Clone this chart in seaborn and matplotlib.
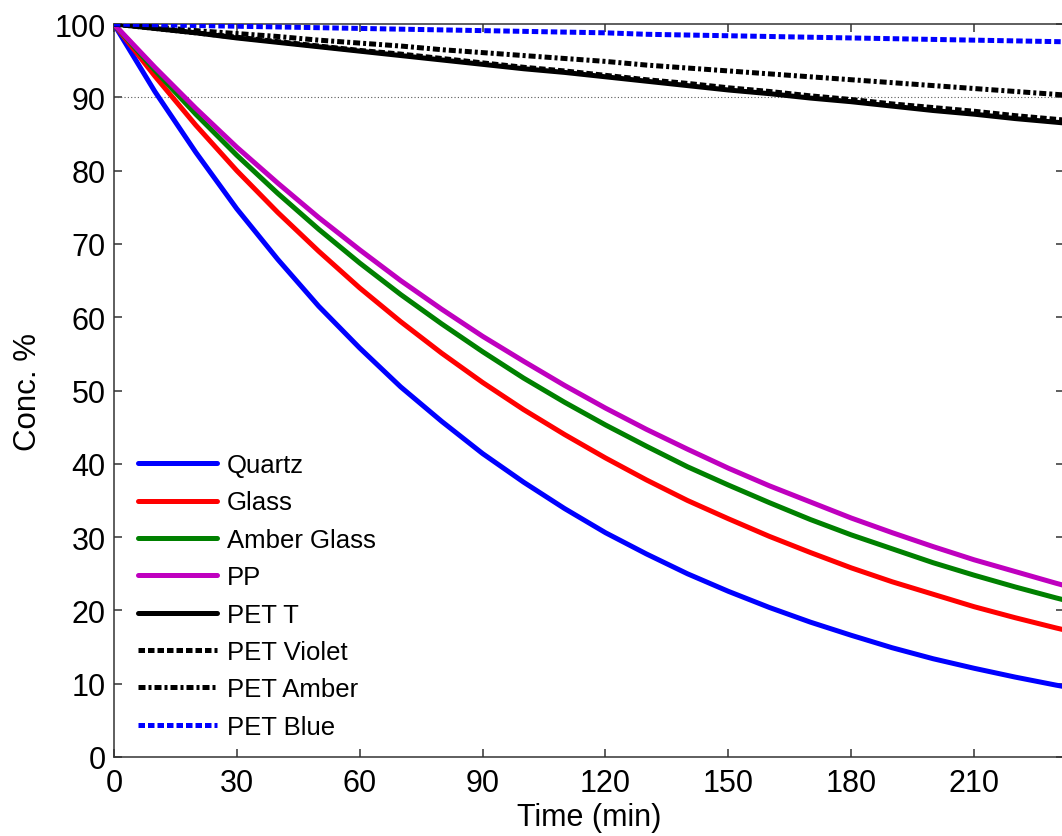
import pandas as pd
import seaborn as sns
import matplotlib.pyplot as plt

# Time axis (min) and concentration (%)
time = [0, 10, 20, 30, 40, 50, 60, 70, 80, 90, 100, 110, 120, 130, 140,
        150, 160, 170, 180, 190, 200, 210, 220, 230, 240]

quartz = [100, 90.8, 82.5, 74.8, 67.9, 61.5, 55.8, 50.5, 45.8, 41.4, 37.5, 33.9, 30.6,
          27.7, 25.0, 22.6, 20.4, 18.4, 16.6, 14.9, 13.4, 12.1, 10.9, 9.8, 8.8]
glass = [100, 92.9, 86.2, 80.0, 74.3, 69.0, 64.0, 59.4, 55.1, 51.1, 47.4, 44.0, 40.8,
         37.8, 35.0, 32.5, 30.1, 27.9, 25.8, 23.9, 22.2, 20.5, 19.0, 17.6, 16.3]
amber_glass = [100, 93.7, 87.7, 82.1, 76.9, 72.0, 67.4, 63.1, 59.1, 55.3, 51.7, 48.4, 45.3,
               42.4, 39.6, 37.1, 34.7, 32.4, 30.3, 28.4, 26.5, 24.8, 23.2, 21.7, 20.3]
pp = [100, 94.1, 88.5, 83.2, 78.3, 73.6, 69.2, 65.0, 61.1, 57.4, 54.0, 50.7, 47.6,
      44.7, 42.0, 39.4, 37.0, 34.8, 32.6, 30.6, 28.7, 26.9, 25.3, 23.7, 22.2]
pet_t = [100, 99.4, 98.8, 98.1, 97.5, 96.9, 96.3, 95.7, 95.1, 94.5, 93.9, 93.4, 92.8,
         92.2, 91.6, 91.0, 90.5, 89.9, 89.4, 88.8, 88.2, 87.7, 87.1, 86.6, 86.1]
pet_violet = [100, 99.4, 98.8, 98.2, 97.6, 97.0, 96.4, 95.9, 95.3, 94.7, 94.1, 93.6, 93.0,
              92.4, 91.9, 91.3, 90.8, 90.2, 89.7, 89.1, 88.6, 88.1, 87.5, 87.0, 86.5]
pet_amber = [100, 99.6, 99.1, 98.7, 98.3, 97.8, 97.4, 97.0, 96.5, 96.1, 95.7, 95.3, 94.9,
             94.4, 94.0, 93.6, 93.2, 92.8, 92.4, 92.0, 91.6, 91.2, 90.8, 90.4, 90.0]
pet_blue = [100, 99.9, 99.8, 99.7, 99.6, 99.5, 99.4, 99.3, 99.2, 99.1, 99.0, 98.9, 98.8,
            98.6, 98.5, 98.4, 98.3, 98.2, 98.1, 98.0, 97.9, 97.8, 97.7, 97.6, 97.5]

labels = ['Quartz', 'Glass', 'Amber Glass', 'PP', 'PET T', 'PET Violet', 'PET Amber', 'PET Blue']
series = [quartz, glass, amber_glass, pp, pet_t, pet_violet, pet_amber, pet_blue]
colors = ['#0000ff', '#ff0000', '#008000', '#bf00bf', 'black', 'black', 'black', '#0000ff']
styles = ['-', '-', '-', '-', '-', (0, (1.3, 0.6)), (0, (1.4, 0.6, 0.6, 0.6)), (0, (1.3, 0.6))]

sns.set_style('ticks')
plt.rcParams['font.family'] = ['Liberation Sans', 'DejaVu Sans']
plt.rcParams['text.color'] = 'black'
plt.rcParams['axes.labelcolor'] = 'black'

fig = plt.figure(figsize=(10.62, 8.37), dpi=100)
ax = fig.add_axes([0.1072, 0.0944, 0.8950, 0.8757])

# thin dotted reference line at 90 %
ax.axhline(90, color='0.35', lw=0.8, linestyle=(0, (1, 2)), zorder=1)

for name, vals, c, ls in zip(labels, series, colors, styles):
    sns.lineplot(x=time, y=vals, ax=ax, color=c, linestyle=ls, lw=3.6, label=name, zorder=3)

ax.set_xlim(0, 232)
ax.set_ylim(0, 100)
ax.set_xticks(range(0, 211, 30))
ax.set_yticks(range(0, 101, 10))

for side in ['left', 'right', 'top', 'bottom']:
    ax.spines[side].set_visible(True)
    ax.spines[side].set_color('0.2')
    ax.spines[side].set_linewidth(1.1)

ax.tick_params(direction='in', length=6, width=1.1, color='0.2', labelsize=22,
               top=True, right=True, labelcolor='black')
ax.tick_params(axis='y', pad=6)
ax.tick_params(axis='x', pad=8)

ax.set_xlabel('Time (min)', fontsize=22, labelpad=3)
ax.set_ylabel('Conc. %', fontsize=22.5, labelpad=8)

leg = ax.legend(loc='lower left', bbox_to_anchor=(0.025, 0.025), frameon=False,
                fontsize=18.5, handlelength=3.1, handletextpad=0.38, labelspacing=0.52,
                borderpad=0, borderaxespad=0)
for t in leg.get_texts():
    t.set_color('black')

plt.savefig('out.png', dpi=100)
